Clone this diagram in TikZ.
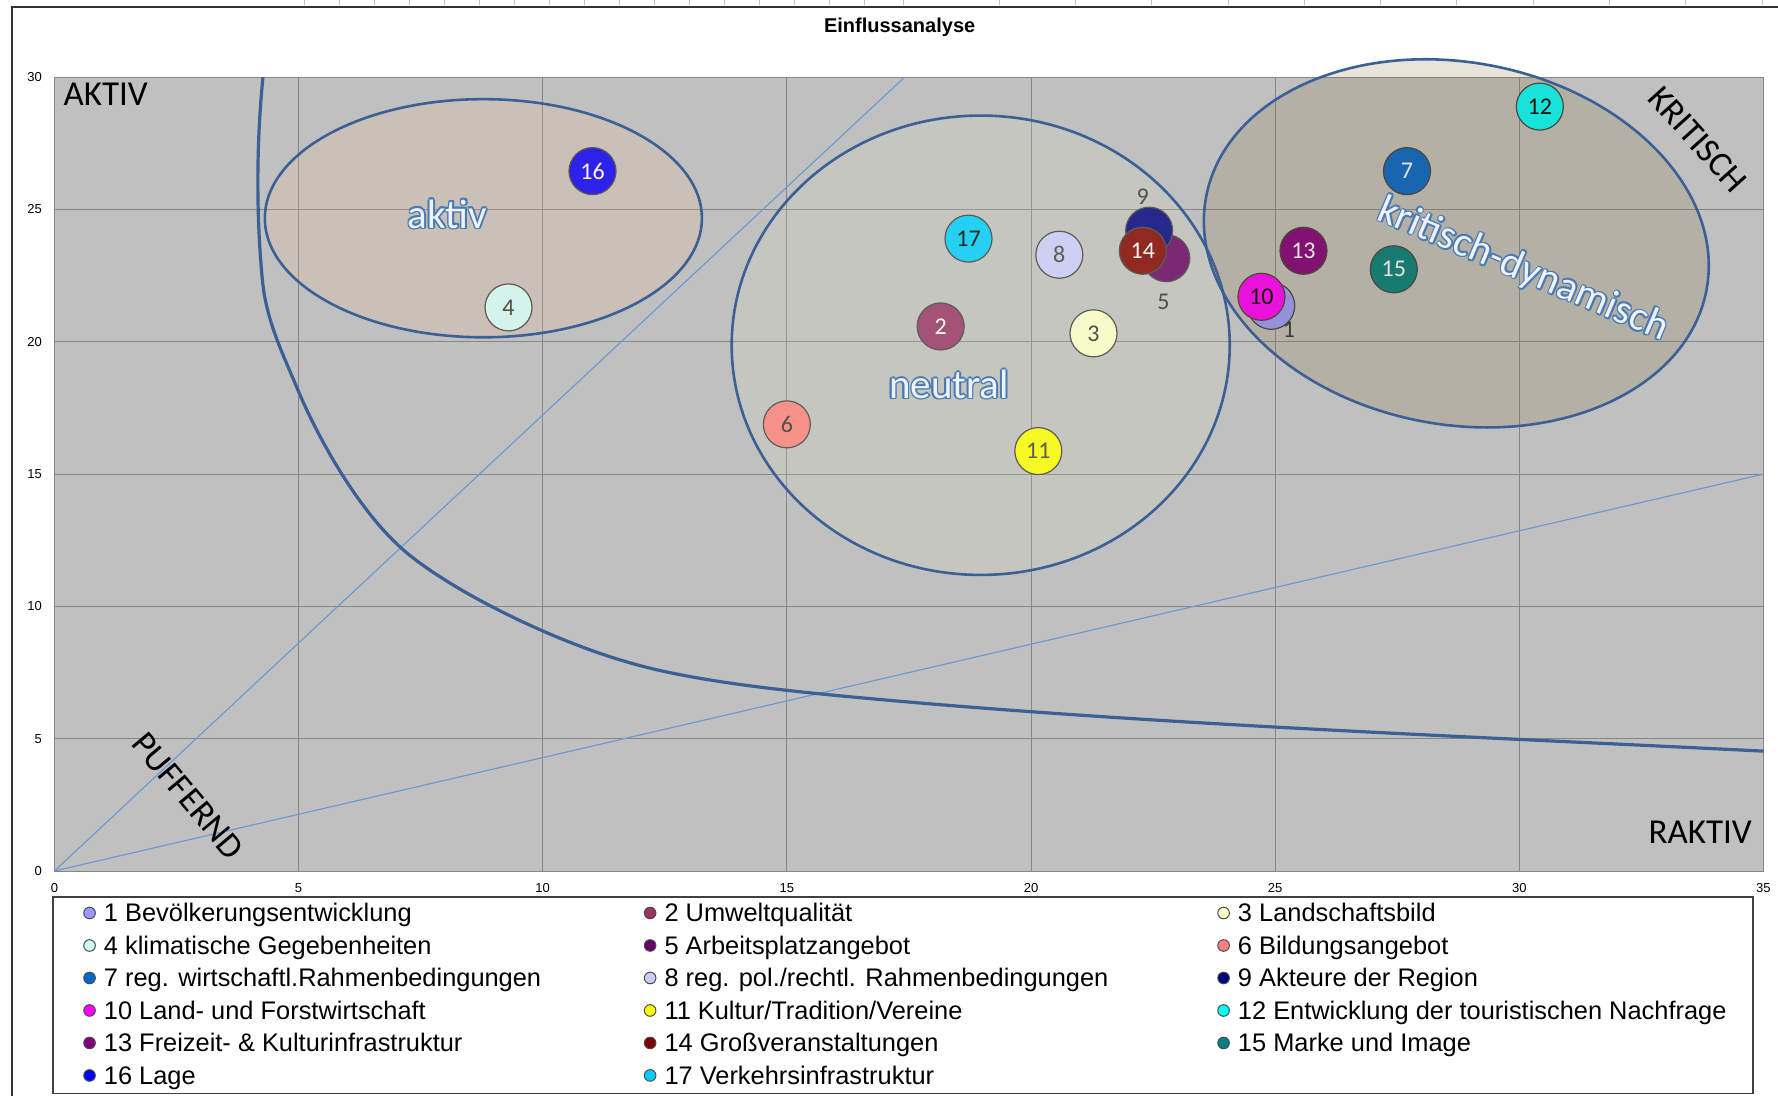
\documentclass[tikz,border=0pt]{standalone}
\usepackage{fontspec}
\setmainfont{Liberation Sans}
\newfontfamily\calibri{Carlito}
\usepackage{xcolor}
\usepackage{tikz}

\definecolor{plotgray}{HTML}{C0C0C0}
\definecolor{gridgray}{HTML}{868686}
\definecolor{zoneedge}{HTML}{3B6096}
\definecolor{diagblue}{HTML}{6E9AD2}
\definecolor{wordedge}{HTML}{4A7AB4}
\definecolor{wordfill}{HTML}{EEF3FA}
\definecolor{aktivfill}{HTML}{FAC090}
\definecolor{neutralfill}{HTML}{D7E4BD}
\definecolor{kritfill}{HTML}{876833}
% Excel bubble palette
\definecolor{bub1}{HTML}{9999FF}
\definecolor{bub2}{HTML}{993366}
\definecolor{bub3}{HTML}{FFFFCC}
\definecolor{bub4}{HTML}{CCFFFF}
\definecolor{bub5}{HTML}{660066}
\definecolor{bub6}{HTML}{FF8080}
\definecolor{bub7}{HTML}{0066CC}
\definecolor{bub8}{HTML}{CCCCFF}
\definecolor{bub9}{HTML}{000080}
\definecolor{bub10}{HTML}{FF00FF}
\definecolor{bub11}{HTML}{FFFF00}
\definecolor{bub12}{HTML}{00FFFF}
\definecolor{bub13}{HTML}{800080}
\definecolor{bub14}{HTML}{800000}
\definecolor{bub15}{HTML}{008080}
\definecolor{bub16}{HTML}{0000FF}
\definecolor{bub17}{HTML}{00CCFF}

\newcommand{\wordart}[1]{%
  \rlap{\color{wordedge}\foreach \ox/\oy in {0.8/0,-0.8/0,0/0.8,0/-0.8,0.57/0.57,-0.57/0.57,0.57/-0.57,-0.57/-0.57}{\rlap{\hspace*{\ox pt}\raisebox{\oy pt}{#1}}}}%
  \textcolor{wordfill}{#1}}

\tikzset{
  gridline/.style={gridgray, line width=0.5pt},
  ticklbl/.style={font=\fontsize{6.5}{7}\selectfont, inner sep=0pt},
  zone/.style={draw=zoneedge, line width=1.3pt, fill opacity=0.18},
  bubble/.style={circle, draw=black!75, line width=0.6pt, minimum size=23.5pt, inner sep=0pt, font=\calibri\fontsize{12}{12}\selectfont},
  outlbl/.style={text=black!80, inner sep=0pt, font=\calibri\fontsize{12}{12}\selectfont},
  corner/.style={inner sep=0pt, font=\calibri\fontsize{17.5}{18}\selectfont},
  zonelbl/.style={inner sep=0pt, font=\calibri\fontsize{20.5}{21}\selectfont},
  legdot/.style={circle, draw=black!70, line width=0.5pt, minimum size=5.8pt, inner sep=0pt},
  legitem/.style={anchor=base west, inner sep=0pt, font=\fontsize{12.7}{13}\selectfont},
}

\begin{document}
\begin{tikzpicture}[x=24.415pt, y=13.23pt]
\useasboundingbox (-1.114,-8.503) rectangle (35.298,32.918);

% Sheet frame and ruler ticks
\foreach \i in {0,...,16}
  \draw[black!25, line width=0.4pt] (5.111+0.717*\i,32.918) -- (5.111+0.717*\i,32.74);
\foreach \i in {0,...,10}
  \draw[black!25, line width=0.4pt] (19.345+1.5625*\i,32.918) -- (19.345+1.5625*\i,32.74);
\draw[black!25, line width=0.4pt] (17.379,32.918) -- (17.379,32.74);
\draw[black!80, line width=1pt] (-0.874,-8.503) -- (-0.874,32.665) -- (35.298,32.665);

% Title
\node[font=\bfseries\fontsize{10}{11}\selectfont] (title) at (17.31,31.89) {Einflussanalyse};

% Plot area and grid
\fill[plotgray] (0,0) rectangle (35,30);
\foreach \gx in {5,10,...,30}
  \draw[gridline] (\gx,0) -- (\gx,30);
\foreach \gy in {5,10,...,25}
  \draw[gridline] (0,\gy) -- (35,\gy);
\draw[gridline] (0,0) rectangle (35,30);

% Axis numbers
\foreach \gx in {0,5,...,35}
  \node[ticklbl] (xt\gx) at (\gx,-0.64) {\gx};
\foreach \gy in {0,5,...,30}
  \node[ticklbl, anchor=east] (yt\gy) at (-0.25,\gy) {\gy};

% Diagonals
\draw[diagblue, line width=0.6pt] (0,0) -- (17.41,30);
\draw[diagblue, line width=0.6pt] (0,0) -- (35,15);

% Boundary curve
\draw[zoneedge, line width=1.6pt] (4.271,30)
  .. controls (4.134,27.432) and (4.134,24.775) .. (4.259,22.340)
  .. controls (4.336,20.840) and (4.649,19.661) .. (4.991,18.161)
  .. controls (5.381,16.447) and (6.182,13.733) .. (7.111,12.190)
  .. controls (8.056,10.648) and (10.174,8.706) .. (11.800,7.861)
  .. controls (13.193,7.115) and (15.283,6.751) .. (16.909,6.481)
  .. controls (22.715,5.517) and (29.192,5.066) .. (35,4.53);

% Bubbles
\foreach \n/\bx/\by/\tc/\lbl in {
  1/24.92/21.36/black/{}, 2/18.15/20.58/white/2, 3/21.28/20.32/black!80/3,
  4/9.30/21.30/black!80/4, 5/22.77/23.16/white/{}, 6/15.00/16.88/black!80/6,
  7/27.70/26.45/white/7, 8/20.58/23.29/black!75/8, 9/22.42/24.20/white/{},
  10/24.72/21.70/black/10, 11/20.15/15.87/black!75/11, 12/30.42/28.89/black/12,
  13/25.58/23.44/white/13, 14/22.29/23.44/white/14, 15/27.43/22.74/white/15,
  16/11.02/26.45/white/16, 17/18.72/23.90/black/17}
  \node[bubble, fill=bub\n, text=\tc] (b\n) at (\bx,\by) {\lbl};
\node[outlbl] (l9) at (22.29,25.49) {9};
\node[outlbl] (l5) at (22.71,21.49) {5};
\node[outlbl] (l1) at (25.28,20.45) {1};

% Zones
\draw[zone, fill=aktivfill] (8.785,24.67) ellipse [x radius=4.475, y radius=4.5];
\draw[zone, fill=neutralfill] (18.97,19.87) ellipse [x radius=5.10, y radius=8.68];
\draw[zone, fill=kritfill, rotate around={-10.4:(28.71,23.72)}] (28.71,23.72) ellipse [x radius=127.25pt, y radius=90.6pt];

\node[zonelbl] (aktivlbl) at (8.05,24.83) {\wordart{aktiv}};
\node[zonelbl] (neutrallbl) at (18.32,18.40) {\wordart{neutral}};
\node[zonelbl, rotate=-23] (kritlbl) at (30.08,22.71) {\wordart{kritisch-dynamisch}};

% Corner labels
\node[corner, anchor=west] (aktivc) at (0.18,29.37) {AKTIV};
\node[corner, anchor=east] (reaktivc) at (34.77,1.455) {RAKTIV};
\node[corner, rotate=-48] (kritc) at (33.65,27.65) {KRITISCH};
\node[corner, rotate=-50] (pufferc) at (2.735,2.834) {PUFFERND};

% Legend
\draw[black!75, line width=0.8pt] (-0.03,-0.983) rectangle (34.78,-8.41);
\foreach \n/\txt in {1/{1 Bevölkerungsentwicklung}, 2/{2 Umweltqualität}, 3/{3 Landschaftsbild},
  4/{4 klimatische Gegebenheiten}, 5/{5 Arbeitsplatzangebot}, 6/{6 Bildungsangebot},
  7/{7 reg. wirtschaftl.Rahmenbedingungen}, 8/{8 reg. pol./rechtl. Rahmenbedingungen}, 9/{9 Akteure der Region},
  10/{10 Land- und Forstwirtschaft}, 11/{11 Kultur/Tradition/Vereine}, 12/{12 Entwicklung der touristischen Nachfrage},
  13/{13 Freizeit- \& Kulturinfrastruktur}, 14/{14 Großveranstaltungen}, 15/{15 Marke und Image},
  16/{16 Lage}, 17/{17 Verkehrsinfrastruktur}} {
  \pgfmathtruncatemacro\lrow{(\n-1)/3}
  \pgfmathtruncatemacro\lcol{\n-1-3*\lrow}
  \pgfmathsetmacro\lx{{0.72,12.20,23.944}[\lcol]}
  \pgfmathsetmacro\ly{-1.587-1.228*\lrow}
  \node[legdot, fill=bub\n] (ld\n) at (\lx,\ly) {};
  \node[legitem] (lt\n) at ([xshift=7pt, yshift=-4.4pt]ld\n.center) {\txt};
}

\end{tikzpicture}
\end{document}
